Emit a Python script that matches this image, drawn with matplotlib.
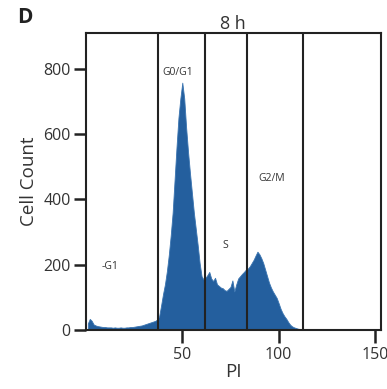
import matplotlib
matplotlib.use("Agg")
import matplotlib.pyplot as plt
import numpy as np

plt.rcParams['font.family'] = ['Open Sans', 'DejaVu Sans']

# PI channel (1 unit apart) and cell counts
pi_start = 1
counts = [20, 34, 28, 17, 14, 12, 11, 10, 9, 9,
          8, 8, 8, 7, 8, 7, 7, 8, 7, 7,
          8, 8, 9, 9, 10, 11, 12, 13, 14, 16,
          18, 20, 22, 24, 26, 28, 32, 42, 75, 110,
          140, 180, 230, 290, 360, 460, 560, 650, 710, 758,
          710, 620, 545, 480, 420, 360, 310, 260, 205, 165,
          155, 160, 168, 178, 158, 150, 160, 140, 135, 130,
          128, 122, 120, 126, 132, 152, 118, 140, 158, 165,
          172, 178, 185, 188, 195, 205, 215, 228, 240, 232,
          220, 205, 185, 165, 145, 130, 118, 108, 98, 82,
          65, 52, 42, 34, 24, 16, 11, 8, 6, 4,
          3, 2]

# gate boundaries and labels
gates = [37.2, 62.0, 83.8, 112.7]
gate_labels = ['-G1', 'G0/G1', 'S', 'G2/M']
label_x = [12.5, 47.5, 72.5, 96.5]
label_y = [195, 790, 260, 465]

yticks = [0, 200, 400, 600, 800]
xticks = [50, 100, 150]

fig = plt.figure(figsize=(3.87, 3.89), dpi=100)
ax = fig.add_axes([0.222, 0.1517, 0.762, 0.7633])

pi = pi_start + np.arange(len(counts))
ax.fill_between(pi, 0, counts, color='#245f9e', lw=0.6, edgecolor='#3a74b0')

for g in gates:
    ax.axvline(g, color='#222222', lw=1.5)

for t, x, y in zip(gate_labels, label_x, label_y):
    ax.text(x, y, t, fontsize=7.5, ha='center', va='center', color='#333333')

ax.set_xlim(0, 153)
ax.set_ylim(0, 910)
ax.set_xticks(xticks)
ax.set_yticks(yticks)
for s in ax.spines.values():
    s.set_linewidth(1.5)
    s.set_color('#222222')
ax.tick_params(axis='both', direction='out', width=1.8, length=9,
               labelsize=11.5, color='#222222', labelcolor='#333333')
ax.tick_params(axis='y', pad=2)

ax.set_xlabel('PI', fontsize=13.5, labelpad=0, color='#333333')
ax.set_ylabel('Cell Count', fontsize=13.5, labelpad=4, color='#333333')
ax.set_title('8 h', fontsize=13, pad=2, color='#333333')

fig.text(0.045, 0.955, 'D', fontsize=15, fontweight='bold', va='center', color='#222222')

fig.savefig('out.png', dpi=100)
